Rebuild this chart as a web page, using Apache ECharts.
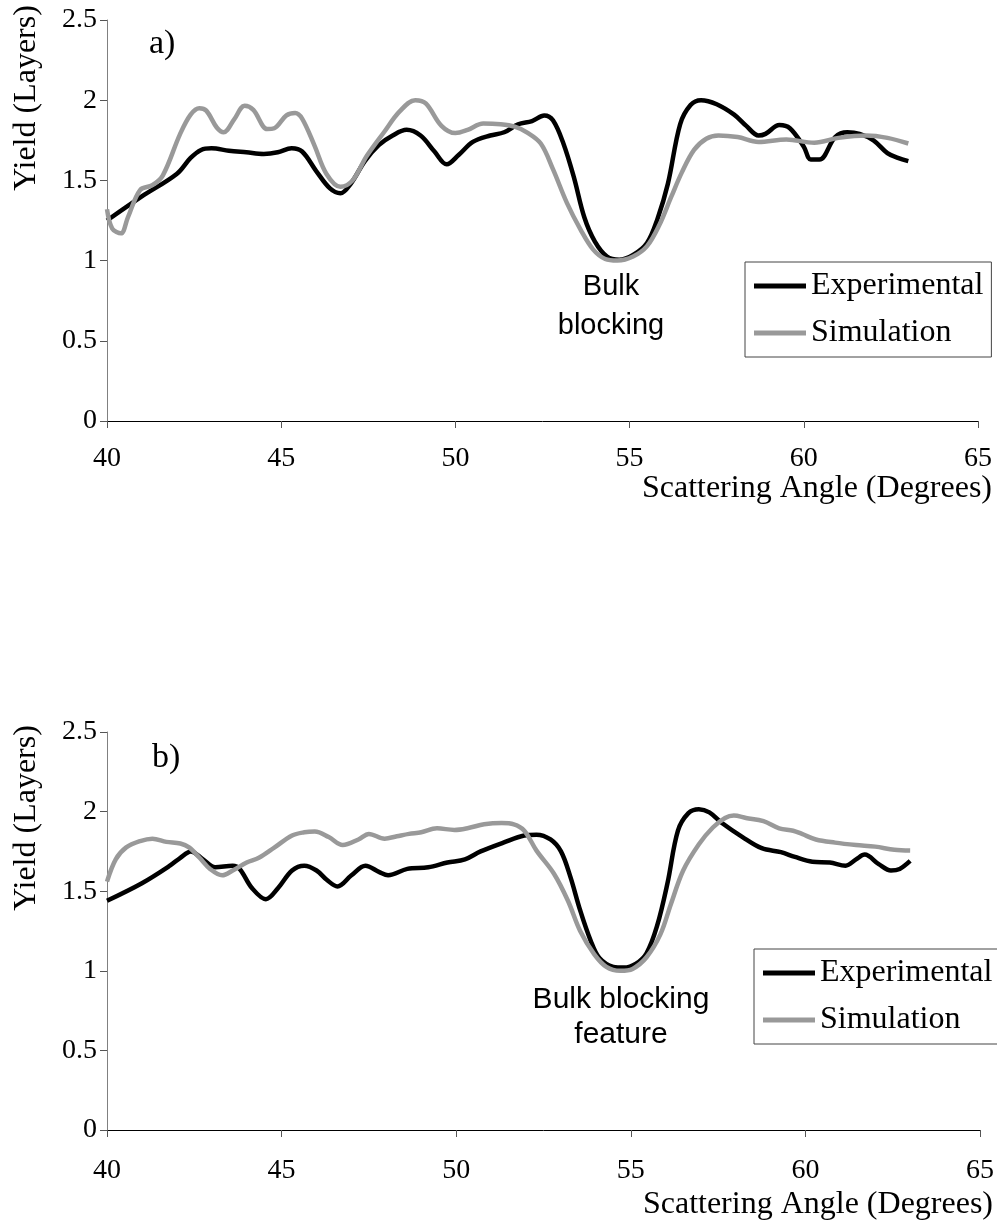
<!DOCTYPE html>
<html>
<head>
<meta charset="utf-8">
<script src="https://cdn.jsdelivr.net/npm/echarts@6/dist/echarts.min.js"></script>
<style>
html,body{margin:0;padding:0;background:#fff;}
#chart{width:997px;height:1225px;}
</style>
</head>
<body>
<div id="chart"></div>
<script>
// ---- Data ----
var xTicks = [40, 45, 50, 55, 60, 65];
var yTicks = [0, 0.5, 1, 1.5, 2, 2.5];
var seriesNames = ['Experimental', 'Simulation'];
var panelLabels = ['a)', 'b)'];
var annotations = ['Bulk\nblocking', 'Bulk blocking\nfeature'];
var xAxisTitle = 'Scattering Angle (Degrees)';
var yAxisTitle = 'Yield (Layers)';

var topExperimental = [
  [40,1.25],[41,1.40],[42,1.54],[42.4,1.64],[42.7,1.69],[43,1.70],[43.5,1.685],[44,1.675],[44.5,1.665],
  [44.9,1.675],[45.3,1.70],[45.6,1.68],[46,1.56],[46.4,1.45],[46.7,1.42],[47,1.48],[47.4,1.62],[47.8,1.72],
  [48.2,1.78],[48.6,1.815],[49,1.78],[49.4,1.68],[49.75,1.60],[50.1,1.66],[50.5,1.74],[51,1.78],[51.4,1.80],
  [51.8,1.85],[52.2,1.87],[52.55,1.905],[52.8,1.875],[53.1,1.73],[53.4,1.52],[53.7,1.27],[54,1.12],
  [54.35,1.025],[54.7,1.005],[55.1,1.035],[55.5,1.11],[55.8,1.26],[56.1,1.48],[56.45,1.85],[56.75,1.97],
  [57.05,2.0],[57.5,1.975],[58,1.91],[58.35,1.84],[58.7,1.78],[58.9,1.79],[59.3,1.845],[59.6,1.825],
  [60,1.71],[60.2,1.63],[60.45,1.63],[60.9,1.77],[61.25,1.80],[61.6,1.79],[62,1.75],[62.4,1.67],
  [62.7,1.64],[63,1.62]
];
var topSimulation = [
  [40,1.32],[40.15,1.2],[40.4,1.17],[40.6,1.27],[40.95,1.44],[41.3,1.47],[41.6,1.53],[42.1,1.79],
  [42.4,1.91],[42.65,1.95],[42.85,1.935],[43.15,1.83],[43.35,1.80],[43.65,1.88],[43.95,1.965],[44.2,1.94],
  [44.6,1.82],[44.8,1.825],[45.15,1.905],[45.4,1.92],[45.6,1.885],[45.95,1.72],[46.3,1.54],[46.7,1.46],
  [47.05,1.50],[47.45,1.65],[47.95,1.80],[48.4,1.93],[48.85,2.0],[49.15,1.98],[49.6,1.84],[50,1.795],
  [50.35,1.815],[50.8,1.855],[51.3,1.85],[51.7,1.835],[52.05,1.80],[52.45,1.73],[52.8,1.57],[53.2,1.36],
  [53.6,1.19],[53.95,1.07],[54.3,1.01],[54.65,1.0],[55.1,1.025],[55.5,1.09],[55.85,1.22],[56.2,1.40],
  [56.5,1.55],[56.85,1.69],[57.2,1.76],[57.55,1.78],[58.1,1.77],[58.7,1.74],[59.5,1.755],[60.3,1.735],
  [61.0,1.765],[61.8,1.78],[62.4,1.765],[63,1.73]
];
var bottomExperimental = [
  [40,1.44],[41,1.55],[41.8,1.66],[42.1,1.71],[42.4,1.75],[42.75,1.70],[43.1,1.65],[43.6,1.66],[43.8,1.64],
  [44.15,1.52],[44.55,1.45],[44.9,1.52],[45.3,1.63],[45.65,1.66],[46,1.63],[46.3,1.57],[46.6,1.53],[47,1.60],
  [47.4,1.66],[47.8,1.62],[48.05,1.60],[48.6,1.64],[49.2,1.65],[49.75,1.68],[50.25,1.70],[50.7,1.75],
  [51.35,1.805],[51.95,1.85],[52.3,1.855],[52.7,1.825],[53,1.75],[53.27,1.59],[53.55,1.38],[53.85,1.19],
  [54.1,1.08],[54.5,1.025],[54.8,1.02],[55.15,1.045],[55.45,1.11],[55.75,1.28],[56.05,1.55],[56.35,1.88],
  [56.65,1.99],[56.95,2.015],[57.25,1.995],[57.6,1.93],[58.2,1.84],[58.75,1.77],[59.3,1.745],[59.7,1.715],
  [60.2,1.685],[60.7,1.68],[61.15,1.66],[61.45,1.70],[61.7,1.73],[62.1,1.67],[62.45,1.63],[62.7,1.64],[63,1.69]
];
var bottomSimulation = [
  [40,1.56],[40.25,1.70],[40.55,1.775],[40.95,1.815],[41.3,1.83],[41.7,1.81],[42.1,1.80],[42.35,1.775],
  [42.65,1.71],[42.95,1.64],[43.3,1.60],[43.6,1.63],[44,1.68],[44.35,1.71],[44.8,1.775],[45.3,1.85],
  [45.65,1.87],[45.95,1.875],[46.35,1.84],[46.75,1.79],[47.2,1.825],[47.5,1.86],[47.95,1.83],[48.3,1.845],
  [48.65,1.86],[49.0,1.87],[49.45,1.895],[49.95,1.885],[50.35,1.897],[50.8,1.92],[51.3,1.928],[51.65,1.92],
  [51.95,1.88],[52.3,1.755],[52.8,1.61],[53.2,1.44],[53.55,1.25],[53.95,1.105],[54.3,1.025],[54.7,1.0],
  [55.05,1.012],[55.45,1.085],[55.85,1.23],[56.15,1.42],[56.5,1.63],[56.95,1.795],[57.35,1.90],[57.7,1.96],
  [57.95,1.975],[58.3,1.96],[58.8,1.94],[59.25,1.895],[59.65,1.88],[59.9,1.86],[60.3,1.825],[60.85,1.805],
  [61.45,1.79],[62,1.78],[62.55,1.76],[63,1.755]
];

// ---- Chart ----
var SERIF = '"Liberation Serif", "Times New Roman", serif';
var SANS = '"Liberation Sans", Arial, sans-serif';
var BLACK = '#000000';
var GRAY = '#999999';

function xAxisCfg(gridIndex, margin) {
  return {
    type: 'value', gridIndex: gridIndex,
    min: xTicks[0], max: xTicks[xTicks.length - 1], interval: xTicks[1] - xTicks[0],
    axisLine: { show: true, onZero: false, lineStyle: { color: '#000', width: 1 } },
    axisTick: { show: true, inside: false, length: 7, lineStyle: { color: '#555', width: 1 } },
    axisLabel: { color: '#000', fontFamily: SERIF, fontSize: 28, margin: margin },
    splitLine: { show: false }
  };
}
function yAxisCfg(gridIndex) {
  return {
    type: 'value', gridIndex: gridIndex,
    min: yTicks[0], max: yTicks[yTicks.length - 1], interval: yTicks[1] - yTicks[0],
    axisLine: { show: true, onZero: false, lineStyle: { color: '#808080', width: 1 } },
    axisTick: { show: true, inside: false, length: 7, lineStyle: { color: '#555', width: 1 } },
    axisLabel: { color: '#000', fontFamily: SERIF, fontSize: 28, margin: 10 },
    splitLine: { show: false }
  };
}
function lineSeries(name, data, color, idx) {
  return {
    name: name, type: 'line', data: data,
    xAxisIndex: idx, yAxisIndex: idx,
    smooth: 0.35, showSymbol: false, symbol: 'none',
    lineStyle: { color: color, width: 4.5 },
    itemStyle: { color: color },
    animation: false
  };
}
function legendCfg(left, top) {
  return {
    data: seriesNames, orient: 'vertical', left: left, top: top,
    icon: 'rect', itemWidth: 52, itemHeight: 5, itemGap: 15,
    padding: [8, 8, 8, 9],
    borderColor: '#444', borderWidth: 1, backgroundColor: '#fff',
    textStyle: { fontFamily: SERIF, fontSize: 32, color: '#000', padding: [6, 0, 0, 0] },
    selectedMode: false
  };
}
function txt(text, x, y, font, size, opts) {
  opts = opts || {};
  return {
    type: 'text', x: x, y: y, rotation: opts.rotation || 0, z: 100,
    style: {
      text: text, fill: '#000', fontFamily: font, fontSize: size,
      textAlign: opts.align || 'center', textVerticalAlign: 'middle',
      lineHeight: opts.lineHeight || size
    }
  };
}

var chart = echarts.init(document.getElementById('chart'), null, { renderer: 'canvas' });
chart.setOption({
  backgroundColor: '#ffffff',
  animation: false,
  grid: [
    { left: 107, top: 20, width: 871, height: 401, containLabel: false },
    { left: 107, top: 732, width: 879, height: 398, containLabel: false }
  ],
  xAxis: [xAxisCfg(0, 24), xAxisCfg(1, 27)],
  yAxis: [yAxisCfg(0), yAxisCfg(1)],
  legend: [legendCfg(745, 262), legendCfg(754, 949)],
  series: [
    lineSeries(seriesNames[0], topExperimental, BLACK, 0),
    lineSeries(seriesNames[1], topSimulation, GRAY, 0),
    lineSeries(seriesNames[0], bottomExperimental, BLACK, 1),
    lineSeries(seriesNames[1], bottomSimulation, GRAY, 1)
  ],
  graphic: [
    txt(yAxisTitle, 27, 98, SERIF, 32, { rotation: Math.PI / 2 }),
    txt(yAxisTitle, 27, 818, SERIF, 32, { rotation: Math.PI / 2 }),
    txt(xAxisTitle, 992, 489, SERIF, 32, { align: 'right' }),
    txt(xAxisTitle, 993, 1205, SERIF, 32, { align: 'right' }),
    txt(panelLabels[0], 149, 44, SERIF, 34, { align: 'left' }),
    txt(panelLabels[1], 152, 758, SERIF, 34, { align: 'left' }),
    txt(annotations[0], 611, 306, SANS, 29, { lineHeight: 39 }),
    txt(annotations[1], 621, 1017, SANS, 30, { lineHeight: 35 })
  ]
});
</script>
</body>
</html>
